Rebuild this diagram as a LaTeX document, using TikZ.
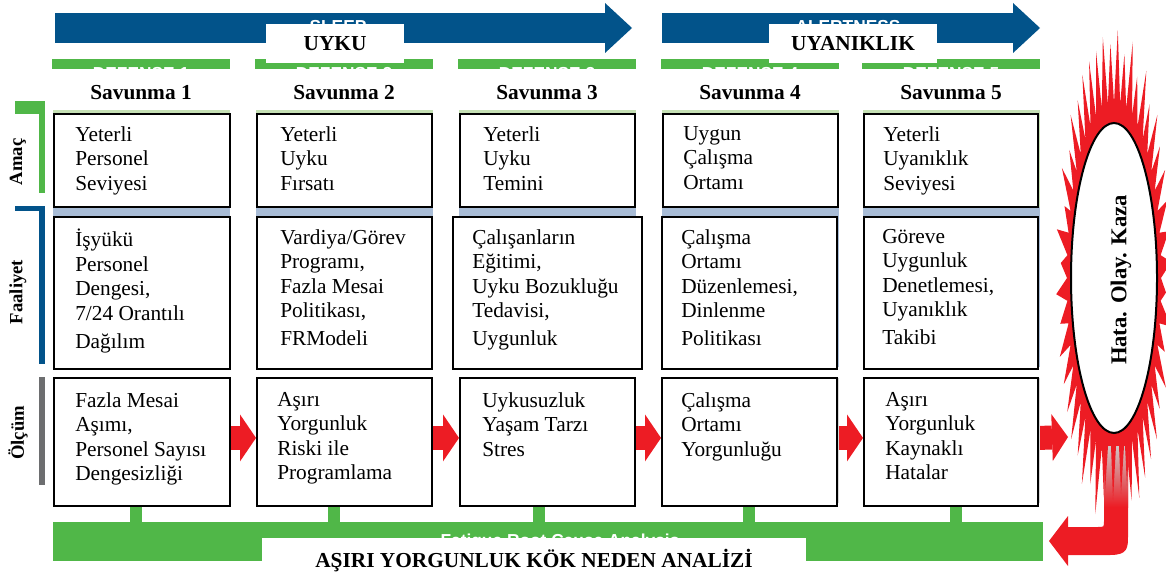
\documentclass[tikz,border=0pt]{standalone}
\usepackage{fontspec}
\setmainfont{Liberation Serif}
\setsansfont{Liberation Sans}
\usetikzlibrary{arrows.meta,calc,shapes.geometric}

\definecolor{flowblue}{RGB}{2,83,138}
\definecolor{defgreen}{RGB}{80,183,72}
\definecolor{alarmred}{RGB}{237,28,36}
\definecolor{paleblue}{RGB}{168,188,214}
\definecolor{palegreen}{RGB}{197,224,180}
\definecolor{palegrey}{RGB}{214,214,214}
\definecolor{bargrey}{RGB}{109,110,112}
\definecolor{fadegrey}{RGB}{206,200,200}

\pgfdeclarelayer{back}
\pgfsetlayers{back,main}

\tikzset{
  cell/.style={draw=black, line width=1.4pt, fill=white, rectangle, inner sep=0pt, anchor=north west},
  celltext/.style={anchor=north west, align=left, inner sep=0pt,
    font=\fontsize{16}{18.4}\selectfont, execute at begin node=\strut},
  head/.style={font=\fontsize{16}{19}\selectfont\bfseries, anchor=base, inner sep=0pt},
  tagbox/.style={fill=white, inner sep=0pt, font=\fontsize{16}{19}\selectfont\bfseries},
  rowlabel/.style={font=\fontsize{14}{16}\selectfont\bfseries, rotate=90, inner sep=0pt},
  ghost/.style={text=white, font=\sffamily\bfseries\fontsize{13}{15}\selectfont, anchor=base, inner sep=0pt},
  blueflow/.style={draw=flowblue, line width=22.5pt,
    -{Triangle[length=20.25pt,width=37.5pt,line width=0pt]}},
  redflow/.style={draw=alarmred, line width=18pt,
    -{Triangle[length=12pt,width=35.25pt,line width=0pt]}},
  stem/.style={draw=defgreen, line width=9pt},
}

\begin{document}
\begin{tikzpicture}[x=0.75pt, y=-0.75pt]
\useasboundingbox (0,0) rectangle (1166,574);
\clip (0,0) rectangle (1166,574);

% ---- top flow arrows with their captions ----
\coordinate (sleepS) at (55,28);  \coordinate (sleepE) at (632,28);
\coordinate (alertS) at (662,28); \coordinate (alertE) at (1040,28);
\draw[blueflow] (sleepS) -- (sleepE);
\draw[blueflow] (alertS) -- (alertE);
\node[ghost] at (338,33) {SLEEP};
\node[ghost] at (848,33) {ALERTNESS};

% ---- column frames: header bars, headers, tinted backgrounds ----
\foreach \i/\L in {1/53,2/256,3/459,4/662,5/863}{
  \fill[defgreen] (\L-1,59) rectangle (\L+177,69);
  \node[ghost] at (\L+88,80) {DEFENSE \i};
  \node[head] (h\i) at (\L+88,100) {Savunma \i};
  \fill[palegreen] (\L,110) rectangle (\L+177,207);
  \fill[paleblue]  (\L,207) rectangle (\L+177,367);
  \fill[palegrey]  (\L,378) rectangle (\L+177,503);
}

\node[tagbox, minimum width=103.5pt, minimum height=29.25pt] (uyku) at (335,44) {UYKU};
\node[tagbox, minimum width=126pt, minimum height=29.25pt] (uyaniklik) at (853,44) {UYANIKLIK};

% ---- row labels and brackets ----
\fill[defgreen] (15,101) rectangle (45,114);
\fill[defgreen] (39,101) rectangle (45,193);
\fill[flowblue] (15,206) rectangle (45,211);
\fill[flowblue] (39,206) rectangle (45,364);
\fill[bargrey]  (39,377) rectangle (45,485);
\node[rowlabel] at (18,162) {Amaç};
\node[rowlabel] at (18,292) {Faaliyet};
\node[rowlabel] at (18,433) {Ölçüm};

% ---- Amaç row ----
\node[cell, minimum width=132pt, minimum height=69.75pt] (a1) at (53,113) {};
\node[cell, minimum width=131.25pt, minimum height=69.75pt] (a2) at (256,113) {};
\node[cell, minimum width=131.25pt, minimum height=69.75pt] (a3) at (459,113) {};
\node[cell, minimum width=131.25pt, minimum height=69.75pt] (a4) at (662,113) {};
\node[cell, minimum width=130.5pt, minimum height=69.75pt] (a5) at (863,113) {};
\node[celltext] at ($(a1.north west)+(22,13)$) {Yeterli\\Personel\\Seviyesi};
\node[celltext] at ($(a2.north west)+(24,13)$) {Yeterli\\Uyku\\Fırsatı};
\node[celltext] at ($(a3.north west)+(24,13)$) {Yeterli\\Uyku\\Temini};
\node[celltext] at ($(a4.north west)+(21,13)$) {Uygun\\Çalışma\\Ortamı};
\node[celltext] at ($(a5.north west)+(20,13)$) {Yeterli\\Uyanıklık\\Seviyesi};

% ---- Faaliyet row ----
\node[cell, minimum width=132pt, minimum height=114pt] (f1) at (53,216) {};
\node[cell, minimum width=131.25pt, minimum height=114pt] (f2) at (256,216) {};
\node[cell, minimum width=141.75pt, minimum height=114pt] (f3) at (452,216) {};
\node[cell, minimum width=131.25pt, minimum height=114pt] (f4) at (661,216) {};
\node[cell, minimum width=130.5pt, minimum height=114pt] (f5) at (863,216) {};
\node[celltext] at ($(f1.north west)+(22,13)$) {İşyükü\\Personel\\Dengesi,\\7/24 Orantılı\\[2.5pt]Dağılım};
\node[celltext] at ($(f2.north west)+(24,13)$) {Vardiya/Görev\\Programı,\\Fazla Mesai\\Politikası,\\[2.5pt]FRModeli};
\node[celltext] at ($(f3.north west)+(20,13)$) {Çalışanların\\Eğitimi,\\Uyku Bozukluğu\\Tedavisi,\\[2.5pt]Uygunluk};
\node[celltext] at ($(f4.north west)+(20,13)$) {Çalışma\\Ortamı\\Düzenlemesi,\\Dinlenme\\[2.5pt]Politikası};
\node[celltext] at ($(f5.north west)+(19,13)$) {Göreve\\Uygunluk\\Denetlemesi,\\Uyanıklık\\[2.5pt]Takibi};

% ---- Ölçüm row ----
\node[cell, minimum width=132pt, minimum height=96pt] (o1) at (53,377) {};
\node[cell, minimum width=131.25pt, minimum height=96pt] (o2) at (256,377) {};
\node[cell, minimum width=131.25pt, minimum height=96pt] (o3) at (459,377) {};
\node[cell, minimum width=131.25pt, minimum height=96pt] (o4) at (661,377) {};
\node[cell, minimum width=130.5pt, minimum height=96pt] (o5) at (863,377) {};
\node[celltext] at ($(o1.north west)+(22,15)$) {Fazla Mesai\\Aşımı,\\Personel Sayısı\\Dengesizliği};
\node[celltext] at ($(o2.north west)+(21,15)$) {Aşırı\\Yorgunluk\\Riski ile\\Programlama};
\node[celltext] at ($(o3.north west)+(23,15)$) {Uykusuzluk\\Yaşam Tarzı\\Stres};
\node[celltext] at ($(o4.north west)+(20,15)$) {Çalışma\\Ortamı\\Yorgunluğu};
\node[celltext] at ($(o5.north west)+(22,15)$) {Aşırı\\Yorgunluk\\Kaynaklı\\Hatalar};

% ---- root cause analysis bar ----
\node[fill=defgreen, inner sep=0pt, minimum width=742.5pt, minimum height=29.25pt,
      anchor=north west] (rca) at (53,522) {};
\node[ghost] at (560,546) {Fatigue Root Cause Analysis};
\node[fill=white, inner sep=0pt, minimum width=408pt, minimum height=30pt,
      anchor=north west] (rcatag) at (262,538) {};
\node[head] at (534,567) {AŞIRI YORGUNLUK KÖK NEDEN ANALİZİ};

% ---- connectors kept behind the boxes ----
\coordinate (burstedge) at (1068,437);
\begin{pgfonlayer}{back}
  \draw[redflow] ([yshift=3pt]o1.east) -- ([yshift=3pt]o2.west);
  \draw[redflow] ([yshift=3pt]o2.east) -- ([yshift=3pt]o3.west);
  \draw[redflow] ([yshift=3pt]o3.east) -- ([yshift=3pt]o4.west);
  \draw[redflow] ([yshift=3pt]o4.east) -- ([yshift=3pt]o5.west);
  \draw[redflow] ([yshift=3pt]o5.east) -- (burstedge);
  \draw[stem] ([xshift=-4.5pt]o1.south) -- ([xshift=-4.5pt]o1.south |- rca.north);
  \draw[stem] ([xshift=-7.5pt]o2.south) -- ([xshift=-7.5pt]o2.south |- rca.north);
  \draw[stem] ([xshift=-6pt]o3.south) -- ([xshift=-6pt]o3.south |- rca.north);
  \draw[stem] (o4.south) -- (o4.south |- rca.north);
  \draw[stem] ([xshift=3.75pt]o5.south) -- ([xshift=3.75pt]o5.south |- rca.north);
\end{pgfonlayer}

% ---- feedback arrow falling from the burst back to the analysis bar ----
\fill[alarmred] (1104,440) -- (1104,521) .. controls (1104,527) .. (1098,527)
  -- (1068,527) -- (1068,516) -- (1049,541) -- (1068,566) -- (1068,555)
  -- (1110,555) .. controls (1128,555) and (1128,548) .. (1128,535)
  -- (1128,440) -- cycle;

% ---- starburst around the event ----
\fill[alarmred] ({1114+47},278)
  \foreach \k in {0,...,47}{
    -- ({1114+56*(0.93+0.11*abs(sin(\k*83)))*cos((\k+0.5)*7.5)},
        {278+240*(0.93+0.11*abs(sin(\k*83)))*sin((\k+0.5)*7.5)})
    -- ({1114+47*cos((\k+1)*7.5)},{278+175*sin((\k+1)*7.5)})
  } -- cycle;

% faded top of the falling arrow, streaked by the lower spikes
\shade[top color=fadegrey, bottom color=alarmred] (1104,446) rectangle (1128,507);
\fill[alarmred] (1103,446) -- (1108,446) -- (1105,492) -- cycle;
\fill[alarmred] (1111,446) -- (1116,446) -- (1113,500) -- cycle;
\fill[alarmred] (1119,446) -- (1124,446) -- (1121,494) -- cycle;
\fill[alarmred] (1125,446) -- (1129,446) -- (1127,486) -- cycle;

\node[ellipse, draw=black, line width=1.5pt, fill=white, inner sep=0pt,
      minimum width=232.5pt, minimum height=64.5pt, rotate=90] (event) at (1114,278) {};
\node[rotate=90, inner sep=0pt, font=\fontsize{17}{20}\selectfont\bfseries] (eventtext) at (1121,280) {Hata. Olay. Kaza};
\end{tikzpicture}
\end{document}
